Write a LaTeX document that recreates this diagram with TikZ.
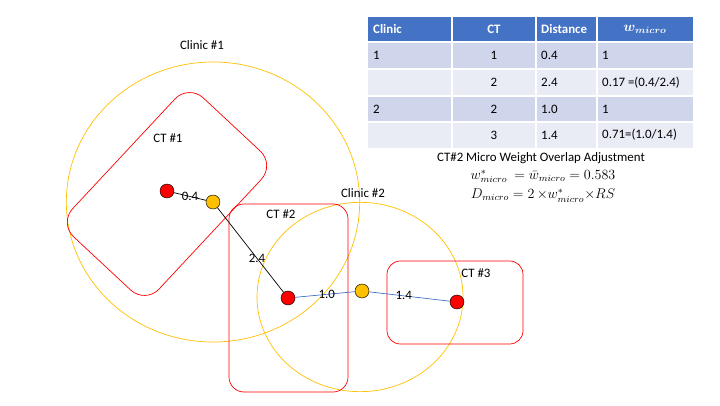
\documentclass[tikz,border=0pt]{standalone}
\usepackage{amsmath}
\usepackage{bm}
\usepackage{fontspec}
\setmainfont{Carlito}
\definecolor{clinicyellow}{HTML}{FFC000}
\definecolor{ctred}{HTML}{FF0000}
\definecolor{hdrblue}{HTML}{4472C4}
\definecolor{rowdark}{HTML}{CFD5EA}
\definecolor{rowlight}{HTML}{E9EBF5}
\begin{document}
\begin{tikzpicture}[
  txt/.style={font=\fontsize{11}{13}\selectfont},
  mth/.style={font=\fontsize{12}{14}\selectfont,inner sep=0pt},
  ctdot/.style={circle,draw=black,fill=ctred,minimum size=0.42cm,inner sep=0pt},
  clinicdot/.style={circle,draw=black,fill=clinicyellow,minimum size=0.42cm,inner sep=0pt},
  zone/.style={draw=clinicyellow,line width=0.6pt},
  tract/.style={draw=ctred,line width=0.6pt,rounded corners=0.45cm},
  dist/.style={txt,inner sep=0pt},
  cell/.style={txt,inner sep=0pt,anchor=west},
  hdr/.style={font=\fontsize{11}{13}\selectfont\bfseries,text=white,inner sep=0pt},
  hdrw/.style={font=\fontsize{12}{14}\selectfont,text=white,inner sep=0pt}]
\useasboundingbox (0cm,0cm) rectangle (21.6cm,12.15cm);
\path (5.01cm,6.42cm) coordinate (P1) (6.39cm,6.09cm) coordinate (C1)
  (8.64cm,3.21cm) coordinate (P2) (10.86cm,3.42cm) coordinate (C2)
  (13.71cm,3.09cm) coordinate (P3);
\draw[zone] (C1) ellipse (4.4cm and 4.2cm);
\draw[zone] (10.8cm,3.24cm) ellipse (3.09cm and 2.84cm);
\begin{scope}[shift={(5.01cm,6.33cm)},rotate=47]
\draw[tract,rounded corners=0.6cm] (-2.85cm,-1.77cm) rectangle (2.85cm,1.77cm);
\end{scope}
\draw[tract] (6.87cm,0.39cm) rectangle (10.44cm,6.03cm);
\draw[tract,rounded corners=0.4cm] (11.61cm,1.83cm) rectangle (15.69cm,4.32cm);
\node[txt] (clinic1) at (6.06cm,10.8cm) {Clinic \#1};
\node[txt] (ct1) at (5.04cm,8.01cm) {CT \#1};
\node[txt] (clinic2) at (10.89cm,6.36cm) {Clinic \#2};
\node[txt] (ct2) at (8.43cm,5.73cm) {CT \#2};
\node[txt] (ct3) at (14.28cm,3.96cm) {CT \#3};
\foreach \i in {1,2,3}
  \node[ctdot] (ctp\i) at (P\i) {};
\foreach \i in {1,2}
  \node[clinicdot] (cl\i) at (C\i) {};
\draw[line width=0.6pt] (ctp1) -- node[dist,pos=0.5] (d1) {0.4} (cl1);
\draw[line width=0.6pt] (cl1) -- node[dist,pos=0.6] (d2) {2.4} (ctp2);
\draw[hdrblue,line width=0.6pt] (ctp2) -- node[dist,text=black,pos=0.53] (d3) {1.0} (cl2);
\draw[hdrblue,line width=0.6pt] (cl2) -- node[dist,text=black,pos=0.43] (d4) {1.4} (ctp3);
\fill[hdrblue] (11.04cm,10.89cm) rectangle (20.79cm,11.64cm);
\foreach \t/\b/\c in {10.89/10.08/rowdark,10.08/9.27/rowlight,9.27/8.49/rowdark,8.49/7.71/rowlight}
  \fill[\c] (11.04cm,\b cm) rectangle (20.79cm,\t cm);
\foreach \x in {13.56,16.08,17.91}
  \draw[white,line width=1pt] (\x cm,7.71cm) -- (\x cm,11.64cm);
\foreach \y in {10.08,9.27,8.49}
  \draw[white,line width=1pt] (11.04cm,\y cm) -- (20.79cm,\y cm);
\draw[white,line width=1.6pt] (11.04cm,10.89cm) -- (20.79cm,10.89cm);
\node[hdr,anchor=west] (hclinic) at (11.19cm,11.27cm) {Clinic};
\node[hdr] (hct) at (14.82cm,11.27cm) {CT};
\node[hdr,anchor=west] (hdist) at (16.23cm,11.27cm) {Distance};
\node[hdrw] (hw) at (19.35cm,11.27cm) {$\bm{w_{micro}}$};
\foreach \y/\cl/\ct/\d/\w [count=\r] in {10.485/1/1/0.4/1,9.675/{}/2/2.4/{0.17 =(0.4/2.4)},8.88/2/2/1.0/1,8.1/{}/3/1.4/{0.71=(1.0/1.4)}}{
  \node[cell] (rc\r) at (11.19cm,\y cm) {\cl};
  \node[txt,inner sep=0pt] (rt\r) at (14.82cm,\y cm) {\ct};
  \node[cell] (rd\r) at (16.23cm,\y cm) {\d};
  \node[cell] (rw\r) at (18.06cm,\y cm) {\w};
}
\node[txt,inner sep=0pt] (adjust) at (16.23cm,7.40cm) {CT\#2 Micro Weight Overlap Adjustment};
\node[mth] (wstar) at (16.29cm,6.86cm) {$w^{*}_{micro}\ = \bar{w}_{micro} = 0.583$};
\node[mth] (dmicro) at (16.29cm,6.28cm) {$D_{micro} = 2\,{\times} w^{*}_{micro}{\times} RS$};
\end{tikzpicture}
\end{document}
